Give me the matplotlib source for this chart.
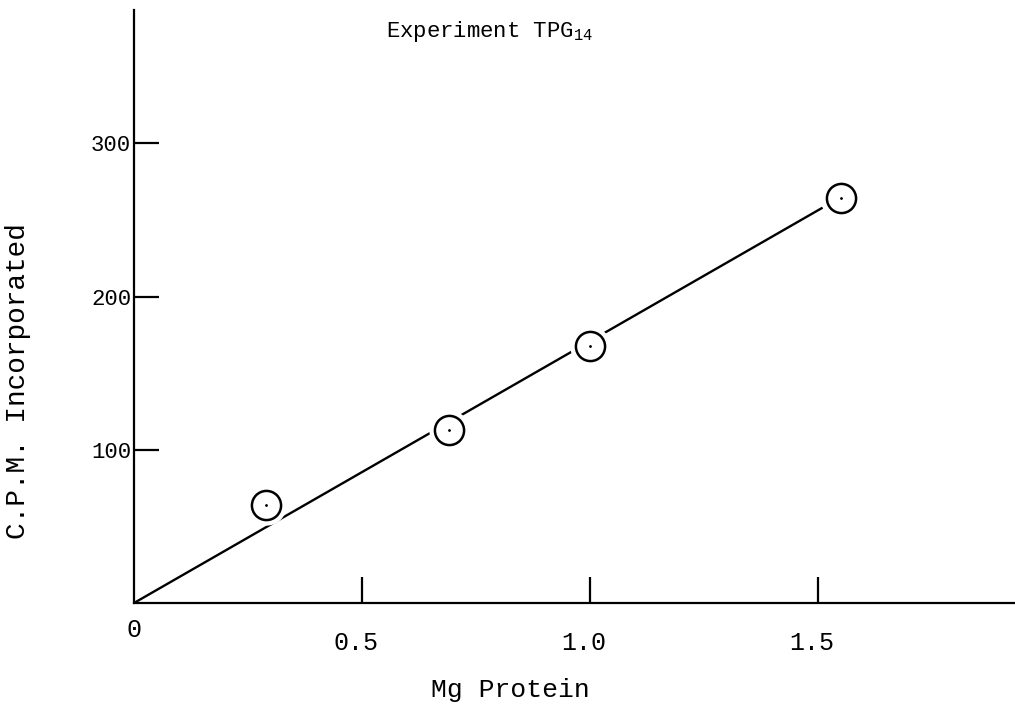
import matplotlib
matplotlib.use("Agg")
import matplotlib.pyplot as plt
from matplotlib.transforms import ScaledTranslation

# measured points
protein_mg = [0.29, 0.69, 1.0, 1.55]
cpm = [64, 113, 168, 264]

# hand-drawn fit line endpoints
fit_x = [0.0, 1.51]
fit_y = [0.0, 258]

x_ticks = [0.5, 1.0, 1.5]
x_ticklabels = ["0.5", "1.0", "1.5"]
y_ticks = [100, 200, 300]
y_ticklabels = ["100", "200", "300"]

plt.rcParams['font.family'] = ['Liberation Mono', 'DejaVu Sans Mono']
plt.rcParams['mathtext.fontset'] = 'custom'
plt.rcParams['mathtext.rm'] = 'Liberation Mono'

fig = plt.figure(figsize=(10.15, 7.13), dpi=100)
ax = fig.add_axes([134 / 1015, 110 / 713, 881 / 1015, 593 / 713])

ax.plot(fit_x, fit_y, color="black", lw=1.7, solid_capstyle="butt", zorder=2)
# white halo breaks the line around each circle
ax.plot(protein_mg, cpm, ls="none", marker="o", ms=28, mfc="white",
        mec="white", zorder=3)
ax.plot(protein_mg, cpm, ls="none", marker="o", ms=21, mfc="white",
        mec="black", mew=1.8, zorder=4)
ax.plot(protein_mg, cpm, ls="none", marker=".", ms=2, color="black", zorder=5)

ax.set_xlim(0, 1.932)
ax.set_ylim(0, 387)
ax.spines["top"].set_visible(False)
ax.spines["right"].set_visible(False)
for s in ("left", "bottom"):
    ax.spines[s].set_linewidth(1.6)

ax.set_xticks(x_ticks)
ax.set_xticklabels(x_ticklabels)
ax.set_yticks(y_ticks)
ax.set_yticklabels(y_ticklabels)
ax.tick_params(axis="x", direction="in", length=19, width=1.6, pad=20,
               labelsize=18)
ax.tick_params(axis="y", direction="in", length=18, width=1.6, pad=2,
               labelsize=16)

# typed labels sit a little left of their tick marks
shift = ScaledTranslation(-6 / 100, 0, fig.dpi_scale_trans)
for lab in ax.get_xticklabels():
    lab.set_transform(lab.get_transform() + shift)

ax.text(0, -0.045, "0", transform=ax.transAxes, ha="center", va="center",
        fontsize=18)

ax.text(0.404, 0.985, r"Experiment TPG$_{14}$", transform=ax.transAxes,
        ha="center", va="top", fontsize=16)
fig.text(0.503, 0.032, "Mg Protein", ha="center", va="center", fontsize=19)
fig.text(0.018, 0.465, "C.P.M. Incorporated", ha="center", va="center",
         rotation=90, fontsize=20)

fig.savefig("out.png", dpi=100)
